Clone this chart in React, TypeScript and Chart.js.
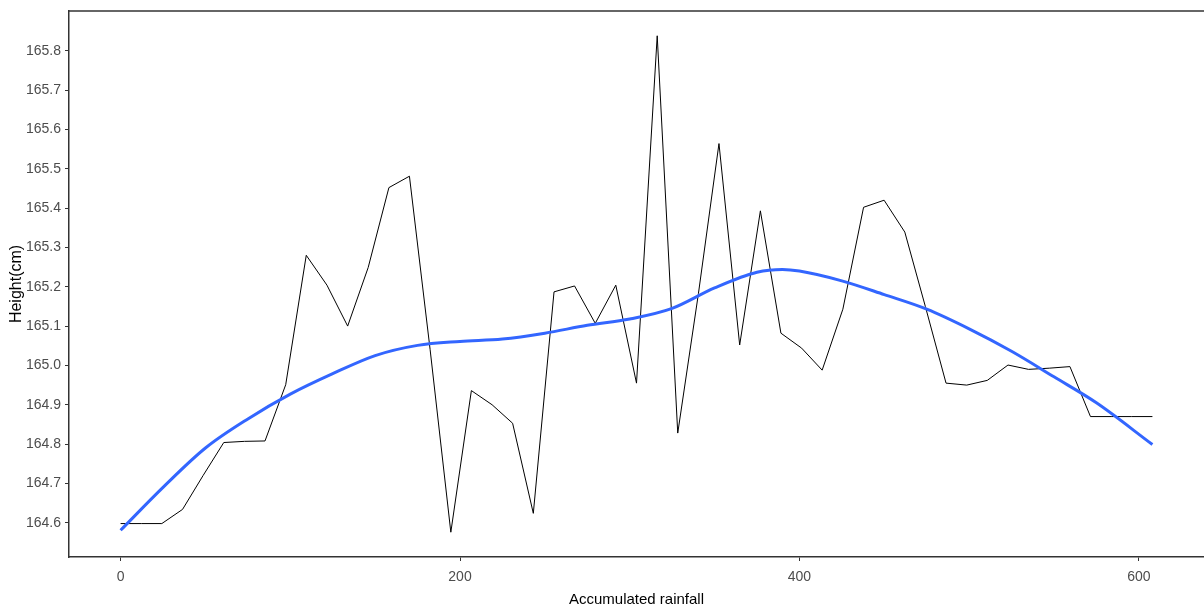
import React, { useEffect, useRef } from 'react';
import { Chart, registerables } from 'chart.js';

Chart.register(...registerables);

// Observed series (accumulated rainfall vs height)
const rainfall = [
  0, 12.2, 24.3, 36.5, 48.6, 60.8, 73.0, 85.1, 97.3, 109.4,
  121.6, 133.8, 145.9, 158.1, 170.2, 182.4, 194.6, 206.7, 218.9, 231.0,
  243.2, 255.4, 267.5, 279.7, 291.8, 304.0, 316.2, 328.3, 340.5, 352.6,
  364.8, 377.0, 389.1, 401.3, 413.4, 425.6, 437.8, 449.9, 462.1, 474.2,
  486.4, 498.6, 510.7, 522.9, 535.0, 547.2, 559.4, 571.5, 583.7, 595.8, 608.0,
];
const heightCm = [
  164.598, 164.598, 164.598, 164.634, 164.720, 164.804, 164.807, 164.808, 164.951, 165.280,
  165.204, 165.100, 165.249, 165.452, 165.481, 165.040, 164.576, 164.936, 164.900, 164.853,
  164.624, 165.187, 165.202, 165.107, 165.204, 164.955, 165.838, 164.828, 165.183, 165.564,
  165.052, 165.393, 165.082, 165.044, 164.988, 165.143, 165.402, 165.420, 165.339, 165.150,
  164.955, 164.950, 164.962, 165.001, 164.990, 164.993, 164.997, 164.870, 164.870, 164.870, 164.870,
];

// Smoothed trend (loess-like curve)
const smoothRainfall = [
  0, 25, 50, 75, 100, 125, 150, 175, 200, 225, 250, 275, 300, 325, 350,
  375, 390, 400, 425, 450, 475, 500, 525, 550, 575, 608,
];
const smoothHeight = [
  164.581, 164.690, 164.790, 164.864, 164.927, 164.979, 165.025, 165.051, 165.061, 165.067,
  165.082, 165.102, 165.118, 165.145, 165.197, 165.237, 165.244, 165.240, 165.215, 165.180,
  165.143, 165.093, 165.036, 164.971, 164.905, 164.799,
];

const xTicks = [0, 200, 400, 600];
const yTicks = [164.6, 164.7, 164.8, 164.9, 165.0, 165.1, 165.2, 165.3, 165.4, 165.5, 165.6, 165.7, 165.8];

const xLabel = 'Accumulated rainfall';
const yLabel = 'Height(cm)';

const fontFamily = "'Liberation Sans', Arial, sans-serif";

export default function App() {
  const canvasRef = useRef<HTMLCanvasElement | null>(null);

  useEffect(() => {
    const canvas = canvasRef.current;
    if (!canvas) return;

    const panelTop = {
      id: 'panelTop',
      afterDraw(chart: any) {
        const { ctx, chartArea } = chart;
        ctx.save();
        ctx.strokeStyle = '#333333';
        ctx.lineWidth = 1.5;
        ctx.beginPath();
        ctx.moveTo(chartArea.left, chartArea.top);
        ctx.lineTo(chartArea.right, chartArea.top);
        ctx.stroke();
        ctx.restore();
      },
    };

    const chart = new Chart(canvas, {
      type: 'scatter',
      data: {
        datasets: [
          {
            label: 'trend',
            data: smoothRainfall.map((x, i) => ({ x, y: smoothHeight[i] })),
            showLine: true,
            borderColor: '#3366FF',
            borderWidth: 3,
            pointRadius: 0,
            tension: 0.4,
            cubicInterpolationMode: 'monotone',
          },
          {
            label: 'height',
            data: rainfall.map((x, i) => ({ x, y: heightCm[i] })),
            showLine: true,
            borderColor: '#000000',
            borderWidth: 1,
            pointRadius: 0,
            tension: 0,
          },
        ],
      },
      options: {
        animation: false,
        responsive: false,
        maintainAspectRatio: false,
        layout: { padding: { left: 0, right: 0, top: 11, bottom: 0 } },
        plugins: {
          legend: { display: false },
          tooltip: { enabled: false },
        },
        scales: {
          x: {
            type: 'linear',
            min: -30.4,
            max: 638.4,
            afterBuildTicks: (s: any) => {
              s.ticks = xTicks.map((v) => ({ value: v }));
            },
            afterFit: (s: any) => {
              s.height = 52;
              s.paddingLeft = 0;
              s.paddingRight = 0;
            },
            grid: {
              display: true,
              drawOnChartArea: false,
              drawTicks: true,
              tickLength: 4,
              tickColor: '#333333',
              tickWidth: 1,
            },
            border: { display: true, color: '#333333', width: 1.5 },
            ticks: {
              color: '#4D4D4D',
              padding: 8,
              maxRotation: 0,
              font: { family: fontFamily, size: 14 },
              callback: (v: any) => String(v),
            },
            title: {
              display: true,
              text: xLabel,
              color: '#000000',
              padding: { top: 0, bottom: 0 },
              font: { family: fontFamily, size: 15 },
            },
          },
          y: {
            type: 'linear',
            min: 164.513,
            max: 165.901,
            afterBuildTicks: (s: any) => {
              s.ticks = yTicks.map((v) => ({ value: v }));
            },
            afterFit: (s: any) => {
              s.width = 69;
              s.paddingTop = 0;
              s.paddingBottom = 0;
            },
            grid: {
              display: true,
              drawOnChartArea: false,
              drawTicks: true,
              tickLength: 4,
              tickColor: '#333333',
              tickWidth: 1,
            },
            border: { display: true, color: '#333333', width: 1.5 },
            ticks: {
              color: '#4D4D4D',
              padding: 4,
              font: { family: fontFamily, size: 14 },
              callback: (v: any) => Number(v).toFixed(1),
            },
            title: {
              display: true,
              text: yLabel,
              color: '#000000',
              padding: { top: 7, bottom: 0 },
              font: { family: fontFamily, size: 16 },
            },
          },
        },
      },
      plugins: [panelTop],
    } as any);

    return () => {
      chart.destroy();
    };
  }, []);

  return (
    <div style={{ position: 'absolute', left: 0, top: 0, width: 1204, height: 609, background: '#ffffff' }}>
      <canvas ref={canvasRef} width={1204} height={609} style={{ display: 'block' }} />
    </div>
  );
}
